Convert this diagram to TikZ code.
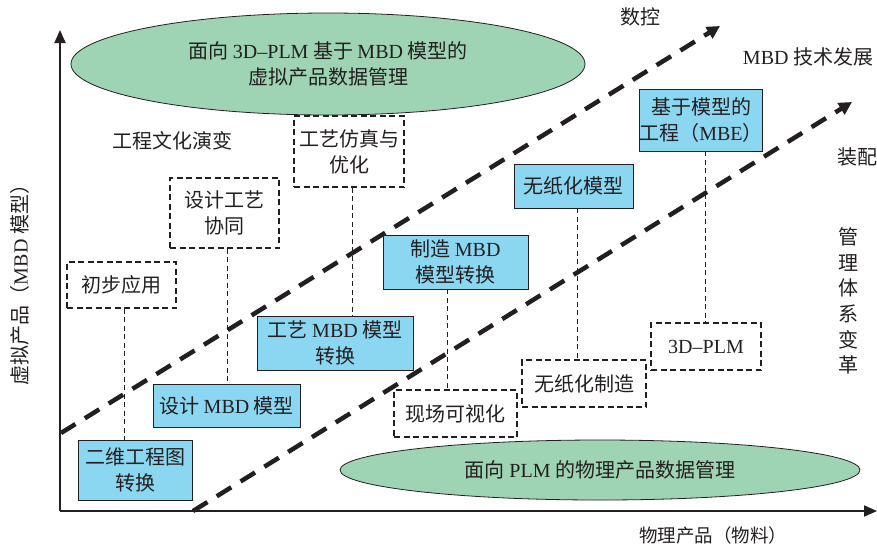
\documentclass[tikz,border=0pt]{standalone}
\usepackage{fontspec}
\setmainfont{Noto Sans CJK SC}
\newfontfamily\lat{Liberation Serif}
\usetikzlibrary{arrows.meta,shapes.geometric}
\definecolor{boxblue}{RGB}{139,214,240}
\definecolor{ellgreen}{RGB}{158,212,180}
\definecolor{ink}{RGB}{35,31,32}
\tikzset{
  txt/.style={font=\fontsize{20}{26}\selectfont, text=ink, align=center, inner sep=0pt},
  bluebox/.style={txt, draw=ink, line width=0.9pt, fill=boxblue},
  dashbox/.style={txt, draw=ink, line width=1.1pt, dash pattern=on 6pt off 3.5pt},
  conn/.style={draw=ink, line width=1pt, dash pattern=on 5pt off 3.5pt},
  ell/.style={txt, ellipse, draw=ink, line width=0.8pt, fill=ellgreen},
  axis/.style={draw=ink, line width=1.8pt, -{Triangle[length=13pt,width=11pt]}},
  trend/.style={draw=ink, line width=4.5pt, dash pattern=on 17pt off 11pt, -{Triangle[length=13pt,width=13pt]}}
}
\begin{document}
\begin{tikzpicture}[x=1pt,y=-1pt]
\useasboundingbox (0,0) rectangle (877,547);
% ellipses
\node[ell, minimum width=514pt, minimum height=102pt] (topell) at (328,64)
  {面向 {\lat 3D–PLM} 基于 {\lat MBD} 模型的\\虚拟产品数据管理};
\node[ell, minimum width=520pt, minimum height=60pt] (botell) at (600,470)
  {面向 {\lat PLM} 的物理产品数据管理};
% axes
\coordinate (origin) at (60,511);
\coordinate (ytip) at (60,30);
\coordinate (xtip) at (877,511);
\draw[axis] (origin) -- (ytip);
\draw[axis] (origin) -- (xtip);
% trend lines
\coordinate (t1s) at (61,433);
\coordinate (t1e) at (720,26);
\coordinate (t2s) at (193,511);
\coordinate (t2e) at (852,102);
\draw[trend] (t1s) -- (t1e);
\draw[trend] (t2s) -- (t2e);
% blue boxes
\node[bluebox, minimum width=114pt, minimum height=60pt] (erwei) at (135,470) {二维工程图\\转换};
\node[bluebox, minimum width=147pt, minimum height=43pt] (sjmbd) at (226.5,405.5) {设计 {\lat MBD} 模型};
\node[bluebox, minimum width=156pt, minimum height=54pt] (gymbd) at (335,343) {工艺 {\lat MBD} 模型\\转换};
\node[bluebox, minimum width=145pt, minimum height=54pt] (zzmbd) at (455.5,262) {制造 {\lat MBD}\\模型转换};
\node[bluebox, minimum width=119pt, minimum height=44pt] (wzmx) at (573.5,186) {无纸化模型};
\node[bluebox, minimum width=122pt, minimum height=62pt] (mbe) at (701,120) {基于模型的\\工程（{\lat MBE}）};
% dashed boxes
\node[dashbox, minimum width=109pt, minimum height=46pt] (chubu) at (121.5,285) {初步应用};
\node[dashbox, minimum width=109pt, minimum height=70pt] (xietong) at (224.5,213) {设计工艺\\协同};
\node[dashbox, minimum width=110pt, minimum height=71pt] (fangzhen) at (349,151.5) {工艺仿真与\\优化};
\node[dashbox, minimum width=123pt, minimum height=47pt] (xianchang) at (455.5,413.5) {现场可视化};
\node[dashbox, minimum width=124pt, minimum height=47pt] (wzzz) at (584,383.5) {无纸化制造};
\node[dashbox, minimum width=110pt, minimum height=47pt] (plm) at (706,346.5) {{\lat 3D–PLM}};
% connectors
\draw[conn] ([xshift=2.5pt]chubu.south) -- ([xshift=2.5pt]chubu.south |- erwei.north);
\draw[conn] ([xshift=2.5pt]xietong.south) -- ([xshift=2.5pt]xietong.south |- sjmbd.north);
\draw[conn] ([xshift=3pt]fangzhen.south) -- ([xshift=3pt]fangzhen.south |- gymbd.north);
\draw[conn] ([xshift=-8.5pt]zzmbd.south) -- ([xshift=-8.5pt]zzmbd.south |- xianchang.north);
\draw[conn] ([xshift=3.5pt]wzmx.south) -- ([xshift=3.5pt]wzmx.south |- wzzz.north);
\draw[conn] ([xshift=4pt]mbe.south) -- ([xshift=4pt]mbe.south |- plm.north);
% free labels
\node[txt] (shukong) at (640,17) {数控};
\node[txt] (mbdfz) at (808,57) {{\lat MBD} 技术发展};
\node[txt] (zhuangpei) at (857,157) {装配};
\node[txt, font=\fontsize{20}{25.6}\selectfont] (guanli) at (848,301) {管\\理\\体\\系\\变\\革};
\node[txt] (wenhua) at (172,141) {工程文化演变};
\node[txt, rotate=90] (ylab) at (20,280) {虚拟产品（{\lat MBD} 模型）};
\node[txt, font=\fontsize{18.5}{24}\selectfont] (xlab) at (713,535) {物理产品（物料）};
\end{tikzpicture}
\end{document}
